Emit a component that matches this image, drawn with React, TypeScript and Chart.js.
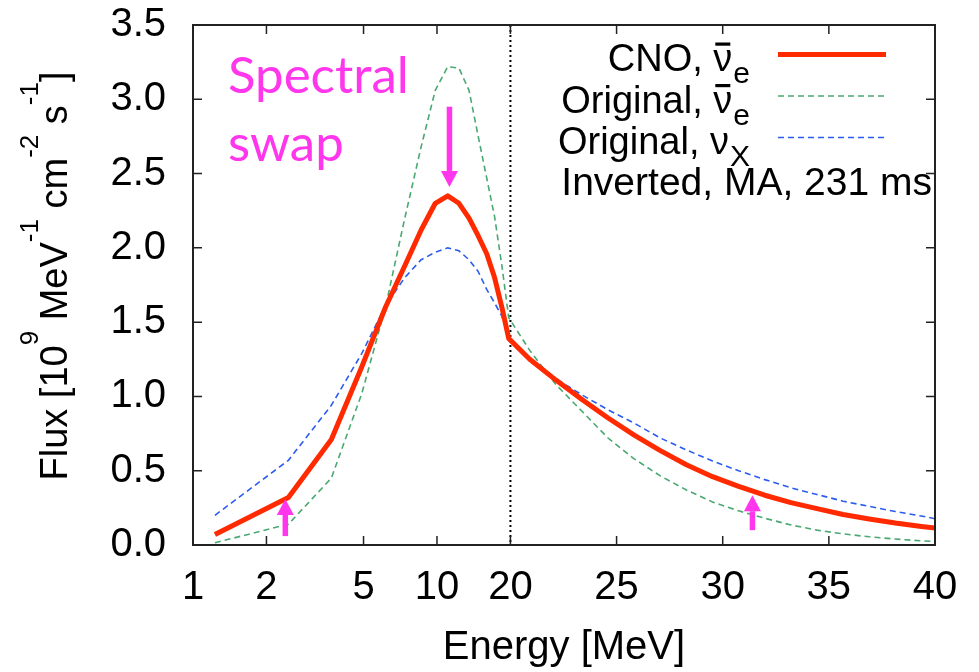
import React, { useEffect, useRef } from 'react';
import { Chart, LinearScale, registerables } from 'chart.js';

Chart.register(...registerables);

// ---------- data ----------
const ENERGY = [1.23, 2.46, 3.69, 4.92, 6.15, 7.38, 8.61, 9.84, 11.07, 12.3, 13.53, 14.76, 15.99, 17.22, 18.45, 19.68,
  20.91, 22.14, 23.37, 24.6, 25.83, 27.06, 28.29, 29.52, 30.75, 31.98, 33.21, 34.44, 35.67, 36.9, 38.13, 39.36, 40.59];
const CNO_ANTI_NUE = [0.07, 0.32, 0.71, 1.2, 1.6, 1.88, 2.12, 2.3, 2.35, 2.3, 2.2, 2.08, 1.96, 1.8, 1.6, 1.39,
  1.25, 1.11, 0.98, 0.855, 0.74, 0.635, 0.54, 0.46, 0.395, 0.335, 0.285, 0.245, 0.205, 0.175, 0.148, 0.125, 0.105];
const ORIG_ANTI_NUE = [0.015, 0.14, 0.45, 1.02, 1.6, 2.2, 2.68, 3.06, 3.22, 3.21, 3.06, 2.75, 2.47, 2.21, 1.88, 1.53,
  1.31, 1.08, 0.9, 0.72, 0.58, 0.465, 0.37, 0.29, 0.23, 0.18, 0.135, 0.1, 0.075, 0.055, 0.04, 0.028, 0.02];
const ORIG_NUX = [0.2, 0.57, 0.94, 1.29, 1.61, 1.8, 1.92, 1.97, 2.0, 1.98, 1.92, 1.84, 1.72, 1.63, 1.54, 1.4,
  1.24, 1.12, 1.01, 0.91, 0.82, 0.72, 0.64, 0.565, 0.5, 0.44, 0.385, 0.34, 0.295, 0.26, 0.225, 0.195, 0.16];

const X_TICKS = [1, 2, 5, 10, 20, 25, 30, 35, 40];
const Y_TICKS_STEP = 0.5;
const X_MIN = 1;
const X_MAX = 40;
const Y_MIN = 0;
const Y_MAX = 3.5;
const X_BREAK = 20; // log axis below, linear above
const LOG_SHARE = 317 / 741; // fraction of the axis width used by the log part

const LEGEND_MAIN = ['CNO, \u03BD', 'Original, \u03BD', 'Original, \u03BD'];
const LEGEND_BAR = [true, true, false]; // anti-neutrino bar over the nu
const LEGEND_SUB = ['e', 'e', 'X'];
const LEGEND_NOTE = 'Inverted, MA, 231 ms';
const X_TITLE = 'Energy [MeV]';
const Y_TITLE_PARTS: [string, boolean][] = [
  ['Flux [10', false], ['9', true], [' MeV', false], ['-1', true], [' cm', false], ['-2', true], [' s', false], ['-1', true], [']', false],
];
const NOTE_LINES = ['Spectral', 'swap'];
// arrows: energy, flux at tail, flux at tip
const ARROWS = [
  { e: 11.25, from: 2.95, to: 2.41 },
  { e: 2.39, from: 0.06, to: 0.31 },
  { e: 31.4, from: 0.1, to: 0.335 },
];

const FONT = "'Liberation Sans', Arial, Helvetica, sans-serif";
const RED = '#ff2a00';
const GREEN = '#4aa872';
const BLUE = '#2a5cf0';
const MAGENTA = '#ff36ec';

class SwapScale extends LinearScale {
  static id = 'swapLogLinear';
  static defaults = LinearScale.defaults;
  buildTicks() {
    return X_TICKS.map((value) => ({ value }));
  }
  _frac(v: number) {
    const min = this.min as number;
    const max = this.max as number;
    if (v <= X_BREAK) return LOG_SHARE * (Math.log(v / min) / Math.log(X_BREAK / min));
    return LOG_SHARE + (1 - LOG_SHARE) * (v - X_BREAK) / (max - X_BREAK);
  }
  getPixelForValue(v: any) {
    if (v === null || v === undefined || isNaN(v)) return NaN;
    return this.getPixelForDecimal(this._frac(+v));
  }
  getValueForPixel(p: number) {
    const d = this.getDecimalForPixel(p);
    const min = this.min as number;
    const max = this.max as number;
    if (d <= LOG_SHARE) return min * Math.pow(X_BREAK / min, d / LOG_SHARE);
    return X_BREAK + (d - LOG_SHARE) / (1 - LOG_SHARE) * (max - X_BREAK);
  }
}
Chart.register(SwapScale as any);

const decorPlugin = {
  id: 'decor',
  beforeDatasetsDraw(chart: any) {
    const { ctx, chartArea: ca, scales } = chart;
    const x = scales.x;
    ctx.save();
    const px = x.getPixelForValue(X_BREAK);
    ctx.strokeStyle = '#000';
    ctx.lineWidth = 2;
    ctx.setLineDash([2, 3]);
    ctx.beginPath();
    ctx.moveTo(px, ca.top);
    ctx.lineTo(px, ca.bottom);
    ctx.stroke();
    ctx.restore();
  },
  afterDatasetsDraw(chart: any) {
    const { ctx, chartArea: ca, scales } = chart;
    const x = scales.x;
    const y = scales.y;
    ctx.save();
    // frame + inward ticks
    ctx.strokeStyle = '#222';
    ctx.lineWidth = 1.5;
    ctx.setLineDash([]);
    const tl = 9;
    ctx.beginPath();
    for (const t of x.ticks) {
      const p = x.getPixelForValue(t.value);
      ctx.moveTo(p, ca.bottom); ctx.lineTo(p, ca.bottom - tl);
      ctx.moveTo(p, ca.top); ctx.lineTo(p, ca.top + tl);
    }
    for (const t of y.ticks) {
      const p = y.getPixelForValue(t.value);
      ctx.moveTo(ca.left, p); ctx.lineTo(ca.left + tl, p);
      ctx.moveTo(ca.right, p); ctx.lineTo(ca.right - tl, p);
    }
    ctx.stroke();
    ctx.lineWidth = 2;
    ctx.strokeRect(ca.left, ca.top, ca.right - ca.left, ca.bottom - ca.top);

    // legend
    const datasets = chart.data.datasets;
    ctx.fillStyle = '#000';
    ctx.textBaseline = 'alphabetic';
    for (let i = 0; i < LEGEND_MAIN.length; i++) {
      const yb = ca.top + 46 + i * 41.5;
      const end = ca.right - 185;
      ctx.font = `30px ${FONT}`;
      const sw = ctx.measureText(LEGEND_SUB[i]).width;
      ctx.textAlign = 'left';
      ctx.fillText(LEGEND_SUB[i], end - sw, yb + 12);
      ctx.font = `38px ${FONT}`;
      ctx.textAlign = 'right';
      const mainEnd = end - sw - 1;
      ctx.fillText(LEGEND_MAIN[i], mainEnd, yb);
      if (LEGEND_BAR[i]) {
        const nuW = ctx.measureText('\u03BD').width;
        const cxNu = mainEnd - nuW / 2;
        ctx.fillRect(cxNu - 7.5, yb - 28.5, 15, 3.2);
      }
      const ds = datasets[i];
      ctx.strokeStyle = ds.borderColor;
      ctx.lineWidth = ds.borderWidth;
      ctx.setLineDash(ds.borderDash || []);
      ctx.beginPath();
      ctx.moveTo(ca.right - 157, yb - 16.5);
      ctx.lineTo(ca.right - 49, yb - 16.5);
      ctx.stroke();
    }
    ctx.setLineDash([]);
    ctx.font = `39px ${FONT}`;
    ctx.textAlign = 'right';
    ctx.fillStyle = '#000';
    ctx.fillText(LEGEND_NOTE, ca.right - 3, ca.top + 170);

    // y title with superscripts
    const mainSize = 38;
    const supSize = 26;
    let total = 0;
    for (const [t, sup] of Y_TITLE_PARTS) {
      ctx.font = `${sup ? supSize : mainSize}px ${FONT}`;
      total += ctx.measureText(t).width;
    }
    ctx.save();
    ctx.translate(67, 276 + total / 2);
    ctx.rotate(-Math.PI / 2);
    ctx.textAlign = 'left';
    let cx = 0;
    for (const [t, sup] of Y_TITLE_PARTS) {
      ctx.font = `${sup ? supSize : mainSize}px ${FONT}`;
      ctx.fillText(t, cx, sup ? -29 : 0);
      cx += ctx.measureText(t).width;
    }
    ctx.restore();

    // annotation text
    ctx.fillStyle = MAGENTA;
    ctx.font = `51px Lato, 'Open Sans', sans-serif`;
    ctx.textAlign = 'left';
    NOTE_LINES.forEach((line, i) => ctx.fillText(line, ca.left + 35, ca.top + 68 + i * 68));

    // arrows
    for (const a of ARROWS) {
      const ax = x.getPixelForValue(a.e);
      const y0 = y.getPixelForValue(a.from);
      const y1 = y.getPixelForValue(a.to);
      const dir = Math.sign(y1 - y0);
      const headLen = 16;
      const headHalf = 8.5;
      const shaft = 5.5;
      const yh = y1 - dir * headLen;
      ctx.fillRect(ax - shaft / 2, Math.min(y0, yh), shaft, Math.abs(yh - y0));
      ctx.beginPath();
      ctx.moveTo(ax - headHalf, yh);
      ctx.lineTo(ax + headHalf, yh);
      ctx.lineTo(ax, y1);
      ctx.closePath();
      ctx.fill();
    }
    ctx.restore();
  },
};

export default function App() {
  const ref = useRef<HTMLCanvasElement>(null);
  useEffect(() => {
    if (!ref.current) return;
    const mk = (vals: number[]) => ENERGY.map((e, i) => ({ x: e, y: vals[i] }));
    const chart = new Chart(ref.current, {
      type: 'line',
      data: {
        datasets: [
          { label: 'CNO', data: mk(CNO_ANTI_NUE), borderColor: RED, borderWidth: 5, pointRadius: 0, tension: 0, borderJoinStyle: 'round', clip: 0 } as any,
          { label: 'Original anti-nu_e', data: mk(ORIG_ANTI_NUE), borderColor: GREEN, borderWidth: 1.6, borderDash: [6, 4], pointRadius: 0, tension: 0, clip: 0 } as any,
          { label: 'Original nu_x', data: mk(ORIG_NUX), borderColor: BLUE, borderWidth: 1.6, borderDash: [6, 4], pointRadius: 0, tension: 0, clip: 0 } as any,
        ],
      },
      options: {
        animation: false,
        responsive: false,
        maintainAspectRatio: false,
        layout: { padding: { left: 0, right: 44, top: 25, bottom: 0 } },
        plugins: { legend: { display: false }, tooltip: { enabled: false }, title: { display: false } },
        scales: {
          x: {
            type: 'swapLogLinear' as any,
            min: X_MIN,
            max: X_MAX,
            afterFit: (s: any) => { s.height = 127; s.paddingLeft = 0; s.paddingRight = 0; },
            grid: { display: false, drawTicks: false },
            border: { display: false },
            ticks: {
              autoSkip: false, maxRotation: 0, minRotation: 0, padding: 19,
              font: { family: FONT, size: 40 }, color: '#000',
              callback: (v: any) => String(v),
            },
            title: { display: true, text: X_TITLE, font: { family: FONT, size: 40 }, color: '#000', padding: { top: 0, bottom: 0 } },
          },
          y: {
            type: 'linear',
            min: Y_MIN,
            max: Y_MAX,
            afterFit: (s: any) => { s.width = 193; s.paddingTop = 0; s.paddingBottom = 0; },
            grid: { display: false, drawTicks: false },
            border: { display: false },
            ticks: {
              stepSize: Y_TICKS_STEP, padding: 27,
              font: { family: FONT, size: 40 }, color: '#000',
              callback: (v: any) => Number(v).toFixed(1),
            },
          },
        },
      },
      plugins: [decorPlugin],
    });
    return () => chart.destroy();
  }, []);
  return (
    <div style={{ position: 'absolute', left: 0, top: 0, width: 979, height: 672, background: '#fff' }}>
      <canvas ref={ref} width={979} height={672} style={{ display: 'block' }} />
    </div>
  );
}
